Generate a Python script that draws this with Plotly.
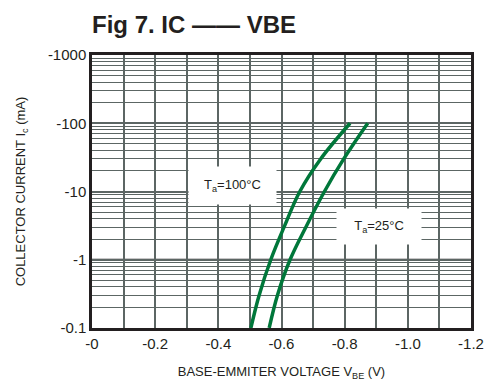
import plotly.graph_objects as go

# Data (VBE magnitude in V, IC magnitude in mA)
ic_ma = [0.1, 0.3, 1, 3, 10, 30, 100]
vbe_100c = [0.503, 0.529, 0.566, 0.608, 0.658, 0.724, 0.817]
vbe_25c = [0.561, 0.587, 0.627, 0.677, 0.736, 0.797, 0.873]

x_ticks = [0, 0.1, 0.2, 0.3, 0.4, 0.5, 0.6, 0.7, 0.8, 0.9, 1.0, 1.1, 1.2]
x_ticktext = ["-0", "", "-0.2", "", "-0.4", "", "-0.6", "", "-0.8", "", "-1.0", "", "-1.2"]
y_ticks = [0.1, 1, 10, 100, 1000]
y_ticktext = ["-0.1", "-1", "-10", "-100", "-1000"]
y_minor = [m * d for d in [0.1, 1, 10, 100] for m in range(2, 10)]
dark_grid_y = 1

green = "#00773a"
gridc = "#5c6664"
ink = "#231f20"
font = "Liberation Sans, Arial, sans-serif"

fig = go.Figure()
for v in (vbe_100c, vbe_25c):
    fig.add_trace(go.Scatter(x=v, y=ic_ma, mode="lines",
                             line=dict(color=green, width=3.5, shape="spline", smoothing=1.0),
                             showlegend=False, hoverinfo="skip"))

fig.update_layout(
    width=485, height=384,
    margin=dict(l=92, r=14, t=55, b=56),
    paper_bgcolor="white", plot_bgcolor="white",
    font=dict(family=font, color=ink),
    title=dict(text="<b>Fig 7. IC —— VBE</b>", x=92 / 485, xanchor="left", xref="container",
               y=1 - 25 / 384, yanchor="middle", yref="container",
               font=dict(size=24, family=font, color=ink)),
)
fig.update_xaxes(
    range=[0, 1.2], tickvals=x_ticks, ticktext=x_ticktext, automargin=False,
    showgrid=True, gridcolor=gridc, gridwidth=1.6, zeroline=False,
    showline=True, linecolor=ink, linewidth=2.5, mirror=True,
    ticks="", tickfont=dict(size=15, family=font, color=ink),
    title=dict(text="BASE-EMMITER VOLTAGE V<sub>BE</sub> (V)",
               font=dict(size=13, family=font, color=ink), standoff=17),
)
fig.update_yaxes(
    type="log", range=[-1, 3], tickvals=y_ticks, ticktext=y_ticktext, automargin=False,
    showgrid=True, gridcolor=gridc, gridwidth=1.6, zeroline=False,
    showline=True, linecolor=ink, linewidth=2.5, mirror=True,
    ticks="", tickfont=dict(size=15, family=font, color=ink),
    minor=dict(tickvals=y_minor, showgrid=True, gridcolor=gridc, gridwidth=1.4, ticks=""),
    title=dict(text="COLLECTOR CURRENT I<sub>c</sub> (mA)",
               font=dict(size=13, family=font, color=ink), standoff=20),
)
fig.add_hline(y=dark_grid_y, line=dict(color=ink, width=2), layer="below")

fig.add_annotation(x=0.444, y=1.088, xref="x", yref="y",
                   text="T<sub>a</sub>=100°C", showarrow=False,
                   width=85, height=35, bgcolor="white",
                   font=dict(size=13, family=font, color=ink))
fig.add_annotation(x=0.909, y=0.487, xref="x", yref="y",
                   text="T<sub>a</sub>=25°C", showarrow=False,
                   width=82, height=33, bgcolor="white",
                   font=dict(size=13, family=font, color=ink))

fig.write_html("out.html", config={"displayModeBar": False},
               post_script="document.body.style.margin='0';")
